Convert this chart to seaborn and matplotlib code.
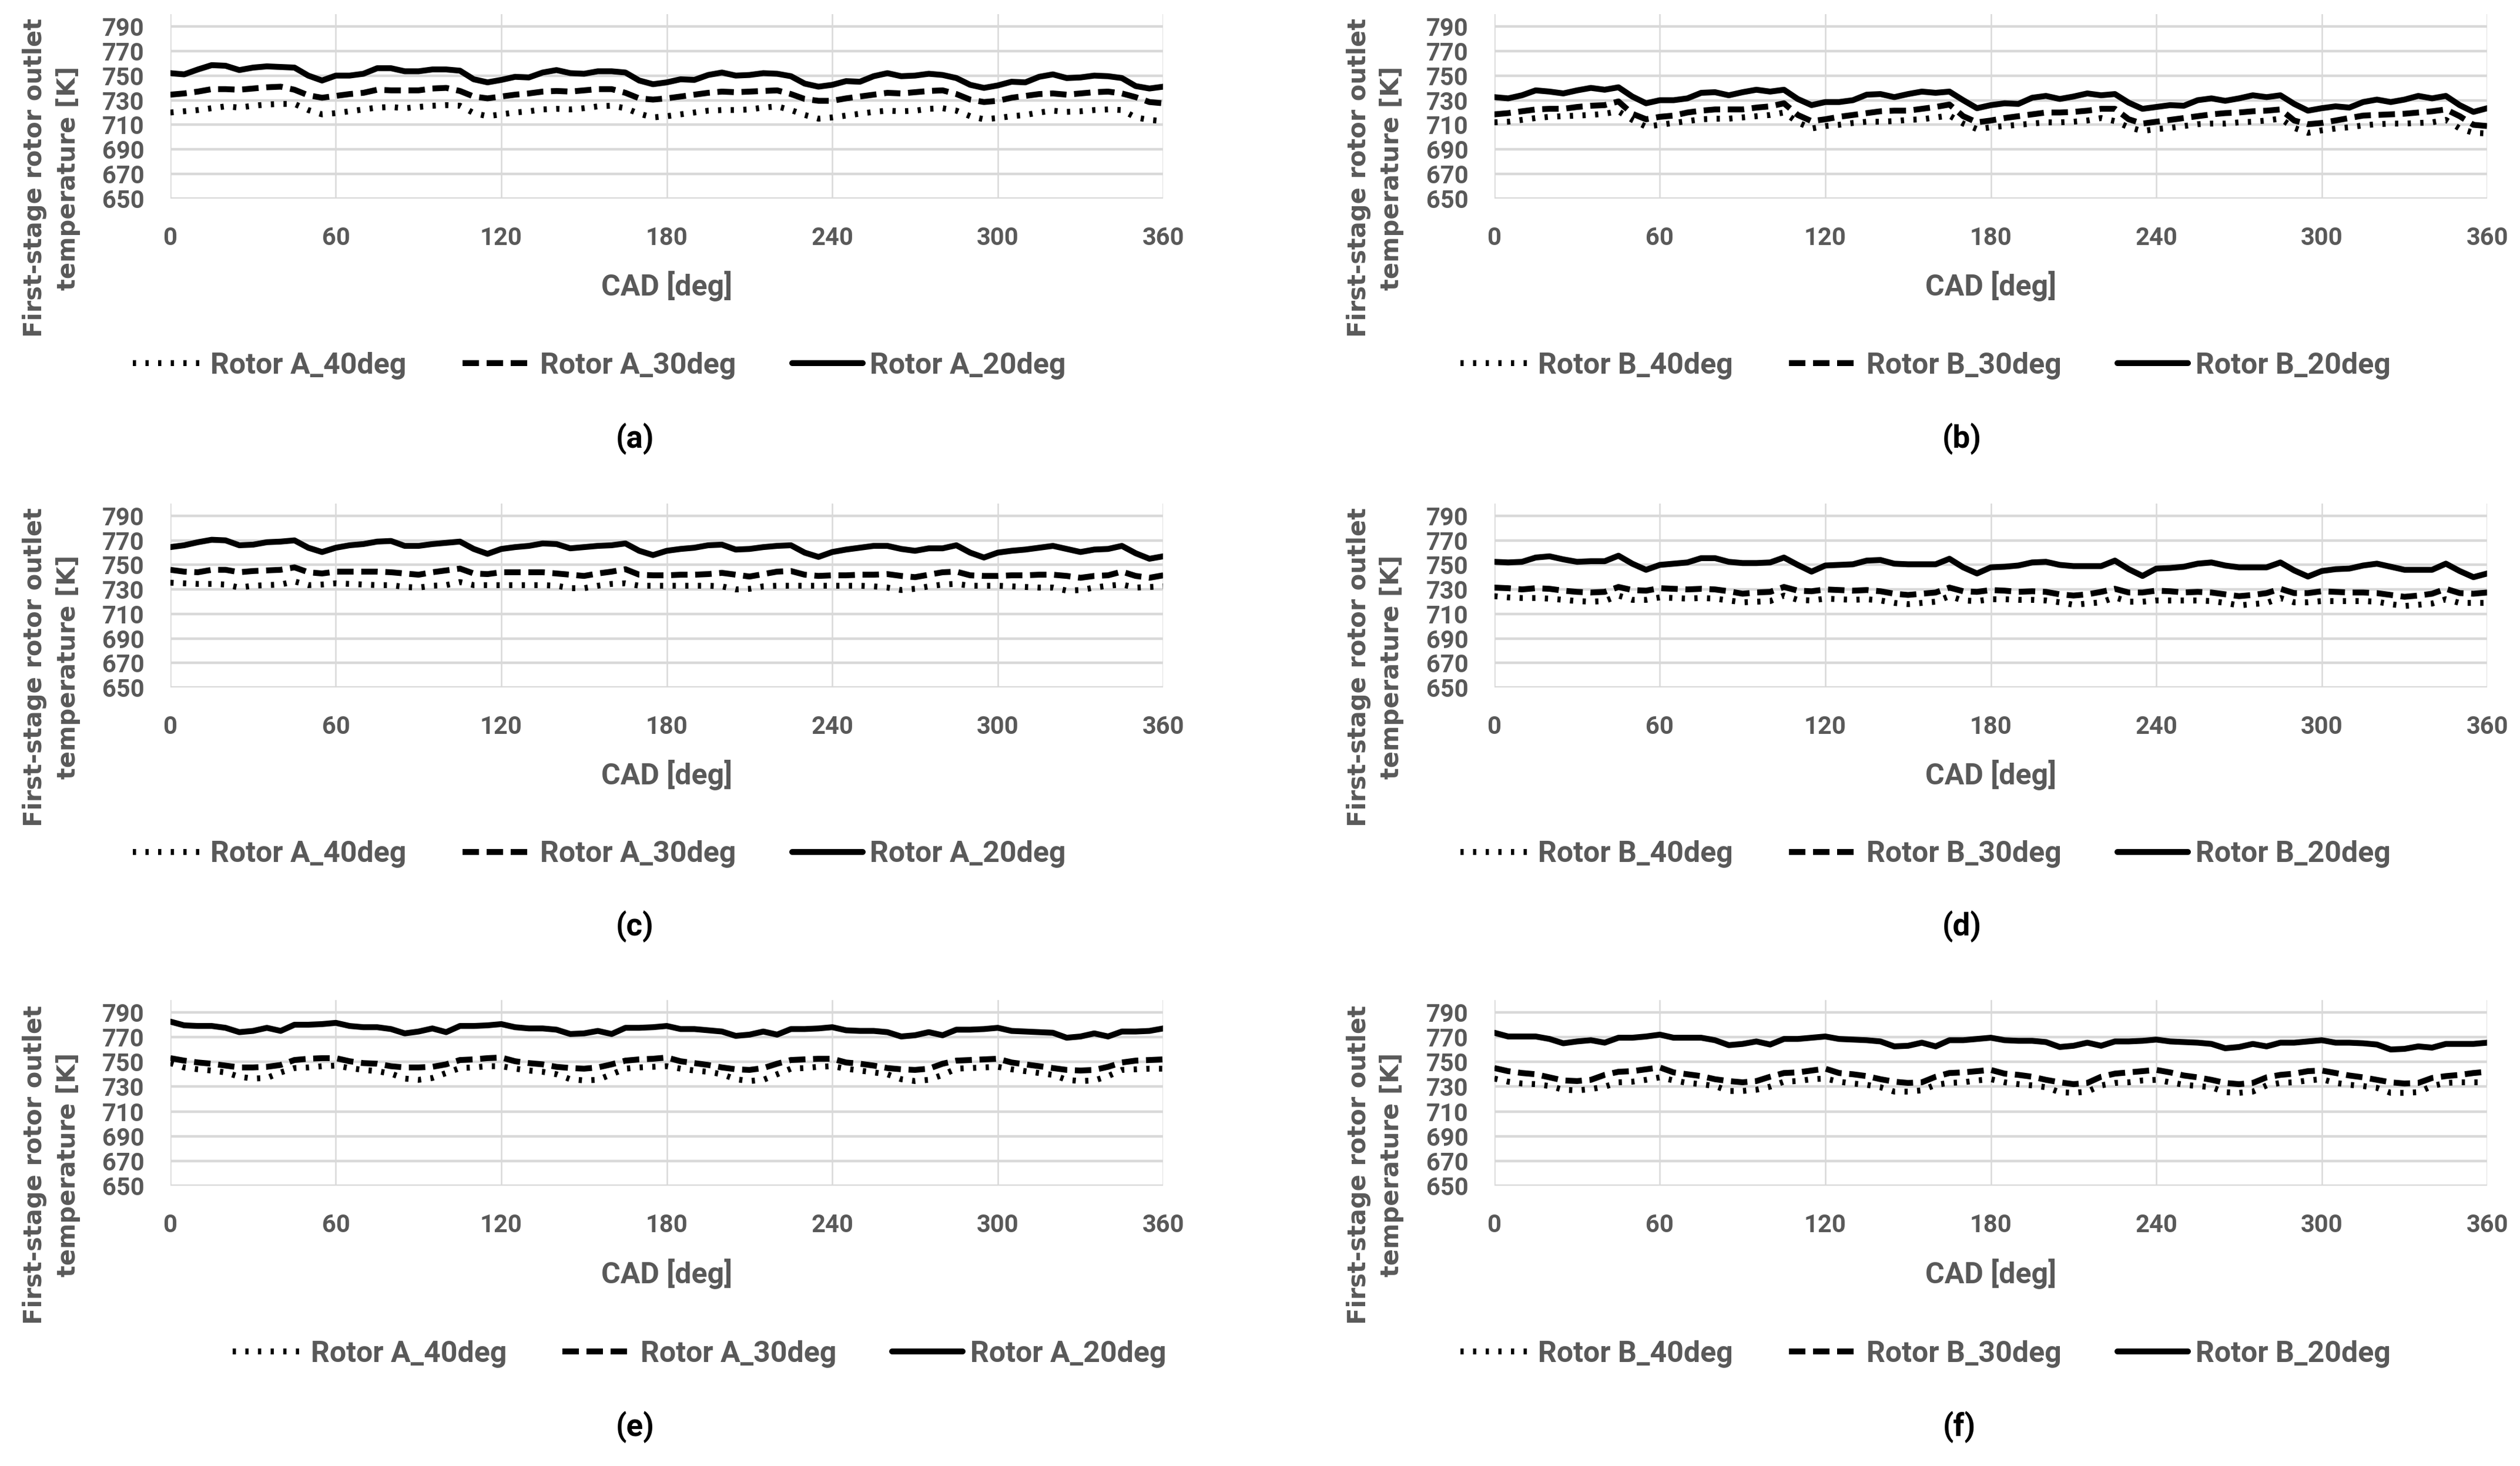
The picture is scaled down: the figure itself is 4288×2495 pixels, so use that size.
import numpy as np
import pandas as pd
import matplotlib
matplotlib.use("Agg")
import matplotlib.pyplot as plt
import seaborn as sns

# -------------------------
# Data (5 deg steps)
# -------------------------
cad = np.arange(0, 361, 5)

# (a) Rotor A
a_40 = [720, 721, 722, 723.5, 725, 724, 725.5, 726.5, 727, 727, 722, 718.5,
        719.5, 721, 722.5, 724, 724.5, 723.5, 724.5, 725.5, 726, 725.5, 719.5, 717,
        718.5, 720, 721, 722.5, 723, 722.5, 723.5, 725, 725.5, 723.5, 719, 716,
        717, 718.5, 720, 721.5, 722, 722, 722.5, 724, 725, 722, 718, 715,
        716, 717.5, 719, 720.5, 721.5, 721, 721.5, 723, 723.5, 721.5, 717, 714.5,
        715.5, 717, 718, 720, 721.5, 720.5, 721, 722, 722.5, 722, 716, 714, 713]
a_30 = [734.5, 735.5, 737, 739, 739, 738.5, 739.5, 740.5, 741, 738.5, 734, 732,
        733.5, 735, 736, 738.5, 738, 738, 738, 739.5, 740, 737.5, 733, 731.5,
        733, 734.5, 735.5, 737, 737.5, 737, 738, 739, 739, 736, 731.5, 730.5,
        731.5, 733, 734.5, 736, 737, 736.5, 737, 737.5, 738, 735, 731, 729.5,
        729.5, 731.5, 733, 734.5, 736, 735.5, 736.5, 737.5, 738, 735, 730.5, 728.5,
        729.5, 732, 733.5, 735, 735.5, 734.5, 735.5, 736.5, 737, 735.5, 732.5, 728.5, 727.5]
a_20 = [752, 751, 755, 758.5, 758, 754.5, 756.5, 757.5, 757, 756.5, 750, 746,
        750, 750, 751.5, 756, 756, 753.5, 753.5, 755, 755, 754, 747, 744.5,
        746.5, 749, 748.5, 752.5, 754.5, 752, 751.5, 753.5, 753.5, 752.5, 746, 743,
        744.5, 747, 746.5, 750.5, 752.5, 750, 750.5, 752, 751.5, 749.5, 743.5, 741,
        742.5, 745.5, 745, 749.5, 752, 749.5, 750, 751.5, 750.5, 748, 742.5, 740,
        742, 745, 744.5, 749, 751, 748, 748.5, 750, 749.5, 748, 741.5, 739.5, 741]

# (b) Rotor B
b_40 = [712, 712.5, 714, 715.5, 716.5, 717, 717.5, 718, 719, 721, 714, 708.5,
        710, 711.5, 713, 714.5, 715, 715, 716, 717, 718, 720, 712, 707,
        709, 710, 711.5, 712.5, 712.5, 713, 714, 714.5, 716, 717.5, 711, 706.5,
        708, 709, 710, 711, 712, 712, 712.5, 713.5, 715.5, 713, 708, 705,
        706.5, 707.5, 709, 710.5, 711, 711, 712, 712.5, 713.5, 715, 707.5, 703.5,
        705.5, 707, 708, 709.5, 710.5, 711, 711, 711.5, 712, 714, 707, 703.5, 703]
b_30 = [718.5, 719.5, 721, 722.5, 723, 723, 724.5, 725.5, 726, 729, 719, 714.5,
        716.5, 717.5, 720, 721.5, 722.5, 722.5, 722.5, 724, 725, 727.5, 718, 713,
        714.5, 716.5, 718, 719.5, 721, 721.5, 721.5, 723, 724.5, 726.5, 717, 712,
        713.5, 715.5, 717, 718.5, 720, 720, 720.5, 721.5, 723, 723, 714.5, 711,
        712.5, 714, 715.5, 717, 718.5, 719.5, 720, 721, 721.5, 722.5, 713.5, 710.5,
        711.5, 713.5, 715.5, 717.5, 718, 718.5, 719, 720, 721, 722.5, 717, 710, 709]
b_20 = [732.5, 731.5, 734, 738, 737, 735.5, 738, 740, 738.5, 740.5, 733, 727.5,
        730, 730, 731.5, 736, 736.5, 734, 736.5, 738.5, 737, 738.5, 731, 726,
        728.5, 728.5, 730, 734.5, 735, 732.5, 735, 737, 736, 737, 730, 723.5,
        726, 727.5, 727, 732, 733.5, 731, 733, 735.5, 734, 735, 728, 723,
        724.5, 726, 725.5, 730, 731.5, 729.5, 731.5, 734, 732.5, 734, 727, 721.5,
        723.5, 725, 724, 728.5, 730.5, 728.5, 730.5, 733.5, 731.5, 733.5, 726, 720.5, 723.5]

# (c) Rotor A
c_40 = [735.5, 735, 734.5, 734.5, 734, 731.5, 733, 733.5, 734, 736.5, 733.5, 734,
        735, 734.5, 734, 733.5, 733.5, 732, 731.5, 733, 733.5, 736, 733.5, 733.5,
        733.5, 733.5, 733.5, 733.5, 733, 731, 731, 733, 734.5, 735, 733, 733,
        733, 733, 733, 733, 732.5, 730, 730.5, 732.5, 733, 733, 733, 733,
        733, 733, 733, 732.5, 731.5, 729.5, 730.5, 732.5, 734, 734.5, 733, 733,
        733, 732.5, 732, 731.5, 731.5, 729, 729.5, 731.5, 733, 734, 731.5, 732, 732.5]
c_30 = [746, 744.5, 744, 746, 746, 744, 745, 745.5, 746, 748, 744, 743,
        744.5, 744.5, 744.5, 744.5, 744, 743, 742, 744, 745.5, 747, 743, 742.5,
        744, 744, 744, 744, 743, 742, 741, 743, 744.5, 746.5, 742, 741.5,
        741.5, 742, 742, 742.5, 743.5, 742, 740.5, 742.5, 744.5, 745, 742, 741,
        741.5, 741.5, 742, 742, 742.5, 741, 740, 742, 744, 744.5, 741.5, 741,
        741, 741.5, 741.5, 742, 742, 741, 739.5, 741, 741.5, 744.5, 741, 739.5, 741.5]
c_20 = [764.5, 766, 768.5, 770.5, 770, 766, 766.5, 768.5, 769, 770, 764, 760.5,
        764, 766, 767, 769, 769.5, 765.5, 765.5, 767, 768, 769, 763, 759,
        763, 764.5, 765.5, 767.5, 767, 763.5, 764.5, 765.5, 766, 767.5, 761.5, 758,
        761.5, 763, 764, 766, 766.5, 762.5, 763, 764.5, 765.5, 766, 760, 756.5,
        760.5, 762.5, 764, 765.5, 765.5, 763, 761.5, 763.5, 763.5, 766, 760, 756,
        760, 761.5, 762.5, 764, 765.5, 763, 760.5, 762.5, 763, 765.5, 759.5, 755, 757]

# (d) Rotor B
d_40 = [724.5, 723.5, 723, 723, 722.5, 721.5, 720.5, 720, 720.5, 725, 721.5, 721.5,
        723.5, 723, 722.5, 723, 722.5, 721, 719.5, 720, 720.5, 725, 721.5, 721,
        722.5, 722, 721.5, 722, 721, 719, 718, 719, 720, 724.5, 721, 720.5,
        722, 722, 721.5, 721.5, 721, 719.5, 717.5, 718.5, 719.5, 723.5, 720, 720,
        721, 721, 721, 721, 720.5, 719, 717, 718, 719, 723, 719.5, 719.5,
        720.5, 720.5, 720.5, 720.5, 720, 718, 716.5, 717.5, 718.5, 722, 719, 719, 719]
d_30 = [731.5, 731, 730, 731, 730.5, 729, 728, 727.5, 728, 732, 729.5, 729,
        731, 730.5, 730, 730.5, 730, 728.5, 726.5, 727.5, 728, 732, 729, 728.5,
        730, 729.5, 729, 729.5, 728.5, 726.5, 725.5, 726.5, 727.5, 731.5, 728.5, 728,
        729.5, 729, 728, 728.5, 728, 726, 725, 726, 728, 730.5, 727.5, 727.5,
        729, 728.5, 727.5, 728, 727.5, 726, 724.5, 725.5, 727, 730.5, 727, 727,
        728.5, 728, 727.5, 727.5, 727, 725.5, 724, 725, 726.5, 730.5, 727, 726.5, 727.5]
d_20 = [752.5, 752, 752.5, 756, 757, 754.5, 752.5, 753, 753, 757.5, 751, 746,
        750, 751, 752, 755.5, 755.5, 752.5, 751.5, 751.5, 752, 756, 750, 744.5,
        749.5, 750, 750.5, 753.5, 754, 751, 750.5, 750.5, 750.5, 755, 748, 743,
        748, 748.5, 749.5, 752, 752.5, 750, 749, 749, 749, 753.5, 746.5, 741,
        747, 747.5, 748.5, 751, 752, 749.5, 748, 748, 748, 752, 745.5, 740.5,
        745, 746.5, 747, 749.5, 751, 748.5, 746, 746, 746, 751, 745, 740, 743]

# (e) Rotor A
e_40 = [749, 745.5, 744, 743, 741.5, 738, 736.5, 737, 741.5, 745, 745.5, 746.5,
        747, 745, 743.5, 742.5, 740.5, 736.5, 735.5, 737, 741, 745, 745.5, 746.5,
        746.5, 744.5, 743, 742, 740, 736, 735, 735.5, 740, 744.5, 745.5, 746,
        746.5, 744.5, 743, 742, 740, 736, 734.5, 735.5, 740, 744.5, 745, 746,
        746.5, 744.5, 743, 741.5, 740, 736, 734.5, 735.5, 739.5, 744.5, 745, 745.5,
        746, 744, 742.5, 741, 739.5, 735.5, 734.5, 735, 738.5, 743.5, 744, 744.5, 744.5]
e_30 = [753, 751, 749.5, 748.5, 747, 745.5, 745.5, 746, 747.5, 751.5, 752.5, 753,
        753, 750.5, 749, 748.5, 746.5, 745.5, 745.5, 746, 748, 751.5, 752, 753,
        753.5, 750.5, 749, 748, 746, 745, 744.5, 745.5, 748, 751, 752, 752.5,
        753.5, 750.5, 749, 747.5, 745.5, 744, 743.5, 745, 748.5, 751.5, 752, 752.5,
        752.5, 749.5, 748.5, 747, 745, 744, 743.5, 744.5, 748.5, 751, 751.5, 752,
        752.5, 749.5, 748, 746.5, 745, 743.5, 743, 743.5, 746, 749.5, 751, 751.5, 752]
e_20 = [782.5, 779.5, 779, 779, 777.5, 774, 775, 777.5, 775, 780, 780, 780.5,
        781.5, 779, 778, 778, 776.5, 773, 774.5, 777, 774, 779, 779, 779.5,
        780.5, 778, 777, 777, 776, 772.5, 773, 775, 772.5, 777.5, 777.5, 778,
        779, 776.5, 776.5, 775.5, 774.5, 771, 772, 774.5, 772, 776.5, 776.5, 777,
        778, 775.5, 775, 775, 774, 770.5, 771.5, 774, 771.5, 776, 776, 776.5,
        777.5, 775, 774.5, 774, 773.5, 769.5, 770.5, 773, 770.5, 774.5, 774.5, 775, 777]

# (f) Rotor B
f_40 = [736.5, 734, 732.5, 732, 730.5, 727.5, 727, 728, 730, 733.5, 734, 735.5,
        737.5, 735, 733, 732, 730.5, 726.5, 726.5, 727.5, 730, 734, 734.5, 736,
        736.5, 734, 732.5, 731.5, 729.5, 726, 726, 727, 731.5, 733, 733.5, 735,
        736, 733.5, 732, 731, 729.5, 725.5, 725, 726, 731, 733, 733.5, 735,
        735.5, 733.5, 731.5, 730.5, 729.5, 725.5, 725, 726, 731, 733, 733.5, 735,
        736, 733, 731.5, 730.5, 729, 725, 725, 725.5, 730.5, 733, 733.5, 733.5, 733.5]
f_30 = [745, 742.5, 741, 740, 737.5, 735, 734.5, 735.5, 739.5, 742, 742.5, 744,
        745.5, 741.5, 740, 738.5, 736, 734.5, 733.5, 734.5, 738, 741, 741.5, 743,
        744.5, 741, 740, 738.5, 736, 734, 733, 733.5, 738, 741, 741.5, 742.5,
        743.5, 740.5, 739.5, 738, 735.5, 733.5, 732, 733, 738, 740.5, 741.5, 742.5,
        743.5, 741.5, 739, 737.5, 735.5, 733, 732, 733, 737.5, 739.5, 740.5, 742.5,
        743, 741, 739, 737.5, 735.5, 733.5, 732.5, 733, 737, 738.5, 739.5, 741, 742]
f_20 = [773.5, 770.5, 770.5, 770.5, 768.5, 765, 766.5, 767.5, 765.5, 769.5, 769.5, 770.5,
        772, 769.5, 769.5, 769.5, 767.5, 763.5, 764.5, 766.5, 764, 768.5, 768.5, 769.5,
        770.5, 768.5, 768, 767.5, 766.5, 762.5, 763, 765.5, 762.5, 767.5, 767.5, 768.5,
        769.5, 767.5, 767, 767, 766, 762, 763, 765.5, 763, 766.5, 766.5, 767,
        768, 766.5, 766, 765.5, 764.5, 761, 762, 764.5, 762.5, 765.5, 765.5, 766.5,
        767.5, 765.5, 765.5, 765, 764, 760, 760.5, 762.5, 761.5, 764.5, 764.5, 764.5, 765.5]

panels = [
    ("(a)", "A", a_40, a_30, a_20),
    ("(b)", "B", b_40, b_30, b_20),
    ("(c)", "A", c_40, c_30, c_20),
    ("(d)", "B", d_40, d_30, d_20),
    ("(e)", "A", e_40, e_30, e_20),
    ("(f)", "B", f_40, f_30, f_20),
]

# -------------------------
# Style
# -------------------------
sns.set_theme(style="white")
plt.rcParams["font.family"] = ["Roboto", "DejaVu Sans"]

text_grey = "#595959"
grid_grey = "#D9D9D9"
fs = 15

line_styles = {
    "40deg": (0, (0.55, 1.6)),
    "30deg": (0, (2.8, 1.3)),
    "20deg": "-",
}

fig = plt.figure(figsize=(21.44, 12.475), dpi=200)

lefts = [0.0676, 0.593]
bottoms = [0.8645, 0.531, 0.1912]
heights = [0.1259, 0.1255, 0.1267]
width = 0.394

# legend x-centre (axes fraction) for each panel
legend_x = [0.432, 0.434, 0.432, 0.434, 0.533, 0.434]
letter_x = [0.468, 0.471, 0.468, 0.471, 0.468, 0.468]

for i, (letter, rotor, s40, s30, s20) in enumerate(panels):
    row, col = divmod(i, 2)
    ax = fig.add_axes([lefts[col], bottoms[row], width, heights[row]])

    for key, vals in (("40deg", s40), ("30deg", s30), ("20deg", s20)):
        df = pd.DataFrame({"CAD": cad, "T": vals})
        sns.lineplot(data=df, x="CAD", y="T", ax=ax, color="black",
                     linewidth=3.6, linestyle=line_styles[key],
                     label=f"Rotor {rotor}_{key}")

    ax.set_xlim(0, 360)
    ax.set_ylim(650, 800)
    ax.set_xticks(range(0, 361, 60))
    ax.set_yticks(range(650, 791, 20))

    ax.yaxis.grid(True, color=grid_grey, linewidth=1.6)
    ax.xaxis.grid(True, color=grid_grey, linewidth=0.9)
    ax.set_axisbelow(True)
    for s in ax.spines.values():
        s.set_visible(False)

    ax.tick_params(axis="x", length=0, pad=17, labelsize=fs, colors=text_grey)
    ax.tick_params(axis="y", length=0, pad=16, labelsize=fs, colors=text_grey)
    for lab in ax.get_xticklabels() + ax.get_yticklabels():
        lab.set_fontweight("bold")

    ax.set_xlabel("CAD [deg]", fontsize=18, fontweight="bold", color=text_grey,
                  va="center")
    ax.xaxis.set_label_coords(0.5, -0.474)
    ax.set_ylabel("First-stage rotor outlet\ntemperature [K]", fontsize=15,
                  fontweight="bold", color=text_grey, va="center",
                  linespacing=1.45, family="DejaVu Sans")
    ax.yaxis.set_label_coords(-0.12, 0.112)

    leg = ax.legend(loc="center", bbox_to_anchor=(legend_x[i], -0.905), ncol=3,
                    frameon=False, handlelength=2.4, handletextpad=0.25,
                    columnspacing=1.9, prop={"weight": "bold", "size": 18})
    for t in leg.get_texts():
        t.set_color(text_grey)

    ax.text(letter_x[i], -1.30, letter, transform=ax.transAxes, ha="center",
            va="center", fontsize=19, fontweight="bold", color="black")

fig.savefig("out.png", dpi=200)
